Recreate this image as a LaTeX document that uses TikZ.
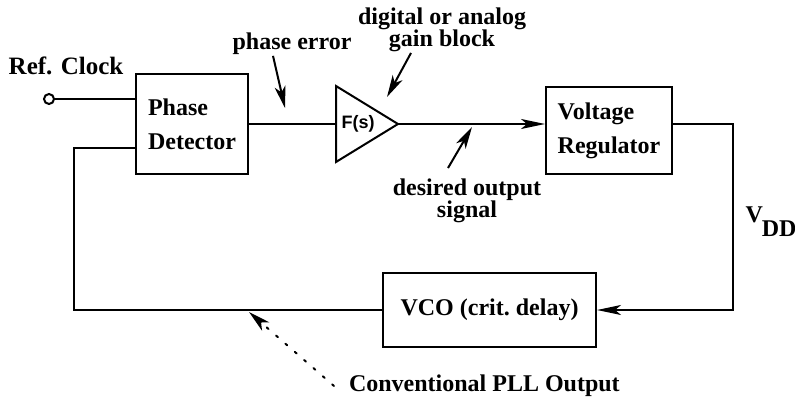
\documentclass[tikz,border=0pt]{standalone}
\usepackage{fontspec}
\setmainfont{Liberation Serif}
\newfontfamily\sansf{Liberation Sans}
\usetikzlibrary{arrows.meta}
\tikzset{
  blk/.style={draw, line width=1pt, align=left, inner sep=0pt},
  lbl/.style={align=center, inner sep=0pt, font=\bfseries\fontsize{12}{11}\selectfont},
  pointer/.style={line width=1pt, -{Stealth[length=11pt,width=5.5pt,inset=3pt]}},
}
\begin{document}
\begin{tikzpicture}[x=0.5pt, y=-0.5pt, line width=1pt,
    font=\bfseries\fontsize{12}{17}\selectfont,
    >={Stealth[length=12pt,width=5pt,inset=3pt]}]
  \useasboundingbox (0,0) rectangle (795,405);
  % blocks
  \node[blk, minimum width=56pt, minimum height=50pt] (pd) at (192,124) {Phase\\Detector};
  \node[blk, minimum width=63pt, minimum height=43.5pt] (vr) at (609,130.5) {Voltage\\Regulator};
  \node[blk, minimum width=106.5pt, minimum height=37pt, align=center] (vco) at (489.5,310) {VCO (crit.\ delay)};
  % gain block F(s)
  \coordinate (ampin) at (336,124);
  \coordinate (ampout) at (398,124);
  \draw (ampin) -- (336,86) -- (ampout) -- (336,162) -- cycle;
  \node[font=\sansf\bfseries\fontsize{9}{10}\selectfont] (amp) at (358,124) {F(s)};
  % reference input
  \node[circle, draw, minimum size=5pt, inner sep=0pt] (clk) at (49,99) {};
  \node[lbl, font=\bfseries\fontsize{12.5}{12}\selectfont] (ref) at (66,66) {Ref. Clock};
  \draw (clk) -- (clk -| pd.west);
  % forward path
  \draw (pd.east) -- (ampin);
  \draw[->] (ampout) -- (ampout -| vr.west);
  % supply to the VCO
  \coordinate (vdd) at (733,124);
  \draw[->] (vr.east |- ampout) -- (vdd) |- (vco.east);
  \node[font=\bfseries\fontsize{12}{12}\selectfont] (vddlbl) at (771,222) {V\kern-0.5pt\raisebox{-7pt}{DD}};
  % feedback
  \coordinate (fbl) at (74,148);
  \draw (vco.west) -| (fbl) -- (fbl -| pd.west);
  % annotations
  \node[lbl] (perr) at (292,44) {phase error};
  \coordinate (perrtip) at (285,108);
  \draw[pointer] ([xshift=-9.5pt]perr.south) -- (perrtip);
  \node[lbl] (gain) at (442,30) {digital or analog\\gain block};
  \coordinate (gaintip) at (387,97);
  \draw[pointer] ([xshift=-15.5pt]gain.south) -- (gaintip);
  \node[lbl] (des) at (467,201) {desired output\\signal};
  \coordinate (destip) at (472,127);
  \draw[pointer] ([xshift=-9.5pt,yshift=5pt]des.north) -- (destip);
  \node[lbl, anchor=west] (conv) at (348,386) {Conventional PLL Output};
  \coordinate (convtip) at (249,312);
  \draw[pointer, dash pattern=on 1.2pt off 5pt, line cap=round] ([xshift=-7pt]conv.west) -- (convtip);
\end{tikzpicture}
\end{document}
